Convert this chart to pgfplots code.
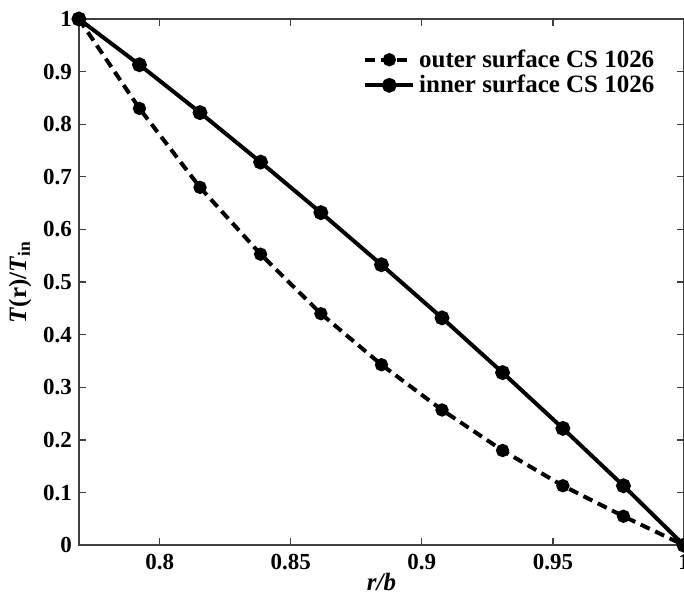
\documentclass[border=0pt]{standalone}
\usepackage{fontspec}
\setmainfont{Liberation Serif}
\usepackage{pgfplots}
\pgfplotsset{compat=1.18}
\begin{document}
\begin{tikzpicture}
\begin{axis}[name=ax, width=303pt, height=263.5pt, scale only axis,
  xmin=0.7692, xmax=1, ymin=0, ymax=1,
  xtick={0.8,0.85,0.9,0.95,1},
  ytick={0,0.1,0.2,0.3,0.4,0.5,0.6,0.7,0.8,0.9,1},
  tick align=inside, major tick length=3.5pt,
  axis line style={draw=black!75, line width=0.8pt},
  every tick/.style={black!75, line width=0.6pt},
  /pgf/number format/assume math mode=true,
  tick label style={font=\bfseries\fontsize{11.5}{13}\selectfont},
  xticklabel style={yshift=-1pt},
  xlabel={\textbf{\textit{r/b}}},
  ylabel={\textbf{\textit{T}(r)/\textit{T}\textsubscript{in}}},
  label style={font=\fontsize{12.5}{14}\selectfont},
  xlabel style={yshift=5pt},
  ylabel style={yshift=-1pt},
  legend style={draw=none, fill=none, at={(0.968,0.958)}, anchor=north east,
    font=\bfseries\fontsize{12.5}{14}\selectfont, row sep=-1.5pt},
  legend cell align=left,
  legend image code/.code={\draw[mark repeat=2,mark phase=2] plot coordinates {(0cm,0cm)(0.42cm,0cm)(0.84cm,0cm)};},
]
\addplot[black, line width=2pt, dash pattern=on 5pt off 3pt, mark=*, mark size=2.3pt, mark options={solid}]
  coordinates {(0.7692,1) (0.7923,0.830) (0.8154,0.680) (0.8385,0.553) (0.8615,0.440) (0.8846,0.343) (0.9077,0.257) (0.9308,0.180) (0.9538,0.113) (0.9769,0.055) (1,0)};
\addlegendentry{outer surface CS 1026}
\addplot[black, line width=2pt, mark=*, mark size=2.7pt]
  coordinates {(0.7692,1) (0.7923,0.913) (0.8154,0.822) (0.8385,0.728) (0.8615,0.632) (0.8846,0.533) (0.9077,0.432) (0.9308,0.328) (0.9538,0.222) (0.9769,0.113) (1,0)};
\addlegendentry{inner surface CS 1026}
\end{axis}
\pgfresetboundingbox
\path ([xshift=-39.5pt,yshift=-25pt]ax.south west) rectangle ([yshift=9.5pt]ax.north east);
\end{tikzpicture}
\end{document}
